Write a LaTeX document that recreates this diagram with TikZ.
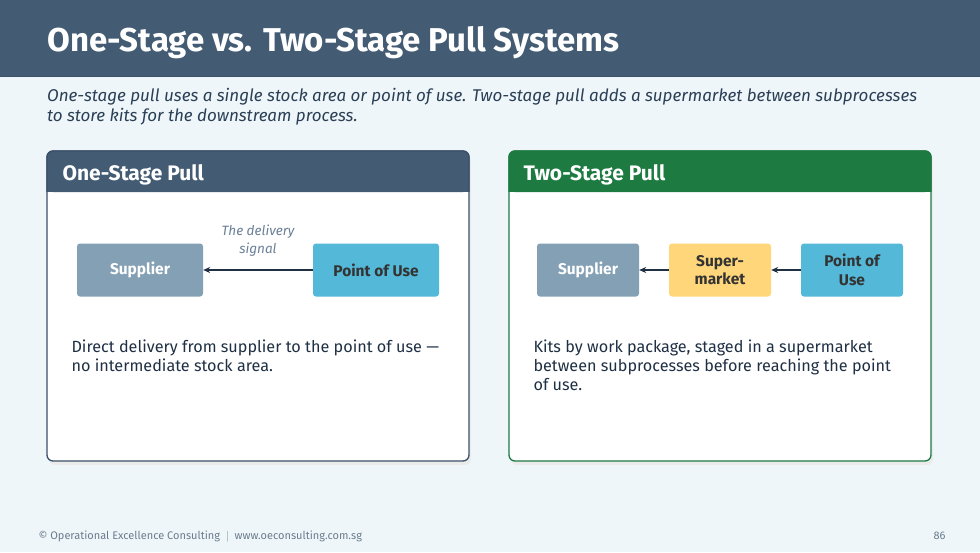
\documentclass[tikz,border=0pt]{standalone}
\usepackage{fontspec}
\setmainfont{Fira Sans}
\usepackage{tikz}
\usetikzlibrary{arrows.meta}

\definecolor{pagebg}{HTML}{EFF6FA}
\definecolor{navy}{HTML}{435C74}
\definecolor{navyline}{HTML}{3A5169}
\definecolor{darkgreen}{HTML}{1D7A41}
\definecolor{subtext}{HTML}{2A3F55}
\definecolor{bodytext}{HTML}{1F3044}
\definecolor{suppfill}{HTML}{84A0B4}
\definecolor{usefill}{HTML}{54B8D8}
\definecolor{marketfill}{HTML}{FFD67A}
\definecolor{signaltext}{HTML}{6B8097}
\definecolor{foottext}{HTML}{6B7C8D}

\begin{document}
\begin{tikzpicture}[x=1pt, y=-1pt,
    box/.style={rounded corners=3pt, minimum width=126pt, minimum height=53pt,
      align=center, font=\fontsize{15.5}{18.5}\selectfont\bfseries},
    smallbox/.style={box, minimum width=102pt},
    flow/.style={-{Stealth[length=7pt,width=6pt]}, draw=bodytext, line width=1.2pt},
    card/.style={rounded corners=6pt, fill=white, line width=1.3pt},
    cardhead/.style={anchor=base west, text=white, font=\fontsize{21}{24}\selectfont\bfseries},
    bodytxt/.style={anchor=north west, align=left, text=bodytext,
      font=\fontsize{16.2}{19}\selectfont}]
  % page and title bar
  \fill[pagebg] (0,0) rectangle (980,552);
  \useasboundingbox (0,0) rectangle (980,552);
  \fill[navy] (0,0) rectangle (980,76);
  \draw[navyline, line width=1pt] (0,76) -- (980,76);
  \node[anchor=base west, text=white, font=\fontsize{33}{36}\selectfont\bfseries]
    (title) at (44,51) {One-Stage vs. Two-Stage Pull Systems};
  \node[anchor=north west, align=left, text=subtext, inner sep=0pt,
    font=\fontsize{17}{20}\selectfont\itshape] (subtitle) at (47,88)
    {One-stage pull uses a single stock area or point of use. Two-stage pull adds a supermarket between subprocesses\\
     to store kits for the downstream process.};

  % card shadows
  \fill[black!8, rounded corners=6pt] (49,155) rectangle (471,465);
  \fill[black!8, rounded corners=6pt] (511,155) rectangle (933,465);

  % one-stage card
  \draw[card, draw=navyline] (47,151) rectangle (469,461);
  \fill[navy, rounded corners=6pt] (47,151) -- (469,151) -- (469,192) -- (47,192) -- cycle;
  \fill[navy] (47,180) rectangle (469,192);
  \draw[navyline, line width=1.3pt, rounded corners=6pt] (47,192) -- (47,151) -- (469,151) -- (469,192);
  \node[cardhead] (onehead) at (59,180) {One-Stage Pull};

  \node[box, fill=suppfill, text=white] (sup1) at (140,270) {Supplier};
  \node[box, fill=usefill, text=black!80] (use1) at (376,270) {Point of Use};
  \draw[flow] (use1) -- (sup1);
  \node[align=center, text=signaltext, font=\fontsize{13.5}{18}\selectfont\itshape]
    (signal) at (258,241) {The delivery\\signal};
  \node[bodytxt] (onetext) at (68,336)
    {Direct delivery from supplier to the point of use ---\\no intermediate stock area.};

  % two-stage card
  \draw[card, draw=darkgreen] (509,151) rectangle (931,461);
  \fill[darkgreen, rounded corners=6pt] (509,151) -- (931,151) -- (931,192) -- (509,192) -- cycle;
  \fill[darkgreen] (509,180) rectangle (931,192);
  \draw[darkgreen, line width=1.3pt, rounded corners=6pt] (509,192) -- (509,151) -- (931,151) -- (931,192);
  \node[cardhead] (twohead) at (520,180) {Two-Stage Pull};

  \node[smallbox, fill=suppfill, text=white] (sup2) at (588,270) {Supplier};
  \node[smallbox, fill=marketfill, text=black!80] (market) at (720,270) {Super-\\market};
  \node[smallbox, fill=usefill, text=black!80] (use2) at (852,270) {Point of\\Use};
  \draw[flow] (use2) -- (market);
  \draw[flow] (market) -- (sup2);
  \node[bodytxt] (twotext) at (530,336)
    {Kits by work package, staged in a supermarket\\between subprocesses before reaching the point\\of use.};

  % footer
  \node[anchor=base west, text=foottext, font=\fontsize{11}{12}\selectfont]
    (footer) at (35,539) {\textcopyright\ Operational Excellence Consulting \ $|$ \ www.oeconsulting.com.sg};
  \node[anchor=base east, text=foottext, font=\fontsize{11}{12}\selectfont]
    (pagenum) at (949,539) {86};
\end{tikzpicture}
\end{document}
